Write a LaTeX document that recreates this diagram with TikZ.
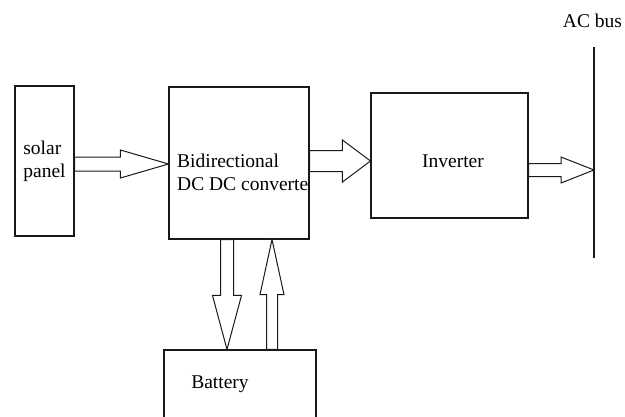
\documentclass[tikz,border=0pt]{standalone}
\usepackage{fontspec}
\setmainfont{Liberation Serif}
\newfontfamily\diagfont{Liberation Serif}
\usetikzlibrary{calc}

% hollow block arrow: start, tip, shaft half width, head half width, head length
\newcommand{\blockarrow}[5]{%
  \coordinate (headbase) at ($(#2)!#5!(#1)$);
  \draw[barrow] ($(#1)!#3!90:(#2)$) -- ($(headbase)!#3!90:(#2)$)
    -- ($(headbase)!#4!90:(#2)$) -- (#2)
    -- ($(headbase)!#4!-90:(#2)$) -- ($(headbase)!#3!-90:(#2)$)
    -- ($(#1)!#3!-90:(#2)$) -- cycle;
}

\begin{document}
\begin{tikzpicture}[
  x=1pt, y=-1pt,
  box/.style={
    draw=black!90,
    line width=1.1pt,
    inner sep=0pt,
  },
  lbl/.style={
    font=\diagfont\fontsize{19.5}{23}\selectfont,
    text=black,
    inner sep=0pt,
  },
  barrow/.style={
    draw=black!90,
    line width=1pt,
  },
]
\clip (0,0) rectangle (625,416);

% ============================================================
% BLOCKS
% ============================================================
\node[box, lbl, minimum width=59, minimum height=150, align=left]
  (solar) at (44.5, 161) {solar\\panel};

\node[box, minimum width=140, minimum height=152] (conv) at (239, 163) {};
\begin{scope}
  \clip (conv.north west) rectangle (conv.south east);
  \node[lbl, align=left, anchor=north west] (convtext) at (177, 154)
    {Bidirectional\\DC DC converter};
\end{scope}

\node[box, minimum width=157, minimum height=125] (inv) at (449.5, 155.5) {};
\node[lbl, anchor=base] (invtext) at (453, 167) {Inverter};

\node[box, minimum width=152, minimum height=80] (batt) at (240, 390) {};
\node[lbl, anchor=base] (batttext) at (220, 388) {Battery};

% ============================================================
% AC BUS
% ============================================================
\coordinate (bustop) at (594, 47);
\coordinate (busbot) at (594, 258);
\draw[box] (bustop) -- (busbot);
\node[lbl, anchor=base] (bustext) at (592.5, 27) {AC bus};

% ============================================================
% BLOCK ARROWS
% ============================================================
\coordinate (solarout) at ($(solar.east)+(0,3)$);
\coordinate (convin)   at (solarout -| conv.west);
\blockarrow{solarout}{convin}{7pt}{14pt}{48pt}

\coordinate (convout) at ($(conv.east)+(0,-2)$);
\coordinate (invin)   at (convout -| inv.west);
\blockarrow{convout}{invin}{10.5pt}{21pt}{28pt}

\coordinate (invout) at ($(inv.east)+(0,14.5)$);
\coordinate (busin)  at (invout -| bustop);
\blockarrow{invout}{busin}{6.5pt}{13pt}{33pt}

\coordinate (convdown) at ($(conv.south)+(-12,0)$);
\coordinate (battin)   at (convdown |- batt.north);
\blockarrow{convdown}{battin}{6.5pt}{14.5pt}{54pt}

\coordinate (battout) at ($(batt.north)+(32,0)$);
\coordinate (convup)  at (battout |- conv.south);
\blockarrow{battout}{convup}{5.5pt}{12pt}{55pt}

\end{tikzpicture}
\end{document}
